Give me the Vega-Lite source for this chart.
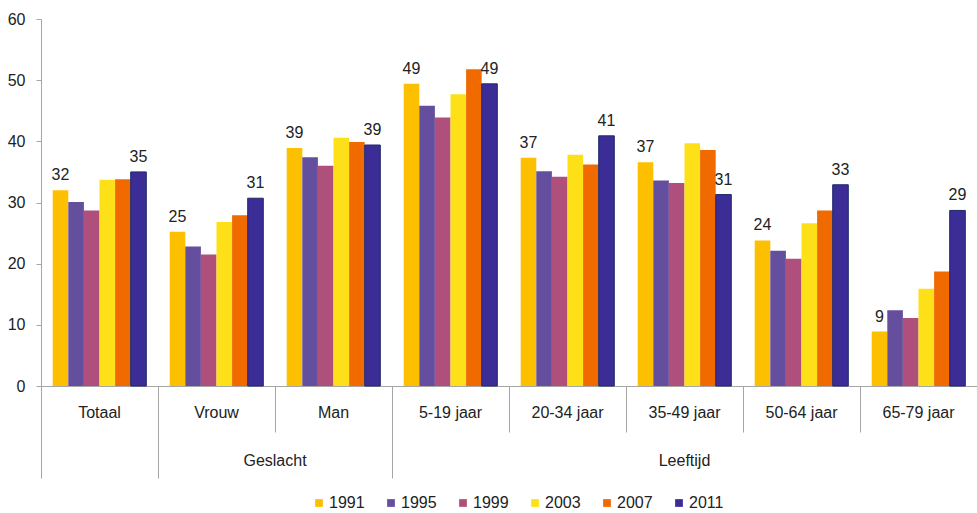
{
  "$schema": "https://vega.github.io/schema/vega-lite/v6.json",
  "width": 936,
  "height": 367,
  "autosize": {"type": "none"},
  "padding": {"left": 41, "top": 19, "right": 0, "bottom": 127},
  "background": "white",
  "config": {
    "view": {"stroke": null},
    "font": "Liberation Sans",
    "text": {"font": "Liberation Sans"},
    "axis": {"labelFont": "Liberation Sans", "grid": false},
    "legend": {"labelFont": "Liberation Sans"}
  },
  "data": {
    "values": [
      {"cat": "Totaal", "year": "1991", "value": 32.0},
      {"cat": "Totaal", "year": "1995", "value": 30.1},
      {"cat": "Totaal", "year": "1999", "value": 28.7},
      {"cat": "Totaal", "year": "2003", "value": 33.7},
      {"cat": "Totaal", "year": "2007", "value": 33.8},
      {"cat": "Totaal", "year": "2011", "value": 35.0},
      {"cat": "Vrouw", "year": "1991", "value": 25.2},
      {"cat": "Vrouw", "year": "1995", "value": 22.8},
      {"cat": "Vrouw", "year": "1999", "value": 21.5},
      {"cat": "Vrouw", "year": "2003", "value": 26.8},
      {"cat": "Vrouw", "year": "2007", "value": 27.9},
      {"cat": "Vrouw", "year": "2011", "value": 30.7},
      {"cat": "Man", "year": "1991", "value": 38.9},
      {"cat": "Man", "year": "1995", "value": 37.4},
      {"cat": "Man", "year": "1999", "value": 36.0},
      {"cat": "Man", "year": "2003", "value": 40.6},
      {"cat": "Man", "year": "2007", "value": 39.9},
      {"cat": "Man", "year": "2011", "value": 39.4},
      {"cat": "5-19 jaar", "year": "1991", "value": 49.4},
      {"cat": "5-19 jaar", "year": "1995", "value": 45.8},
      {"cat": "5-19 jaar", "year": "1999", "value": 43.9},
      {"cat": "5-19 jaar", "year": "2003", "value": 47.7},
      {"cat": "5-19 jaar", "year": "2007", "value": 51.8},
      {"cat": "5-19 jaar", "year": "2011", "value": 49.4},
      {"cat": "20-34 jaar", "year": "1991", "value": 37.3},
      {"cat": "20-34 jaar", "year": "1995", "value": 35.1},
      {"cat": "20-34 jaar", "year": "1999", "value": 34.2},
      {"cat": "20-34 jaar", "year": "2003", "value": 37.8},
      {"cat": "20-34 jaar", "year": "2007", "value": 36.2},
      {"cat": "20-34 jaar", "year": "2011", "value": 40.9},
      {"cat": "35-49 jaar", "year": "1991", "value": 36.6},
      {"cat": "35-49 jaar", "year": "1995", "value": 33.6},
      {"cat": "35-49 jaar", "year": "1999", "value": 33.2},
      {"cat": "35-49 jaar", "year": "2003", "value": 39.7},
      {"cat": "35-49 jaar", "year": "2007", "value": 38.6},
      {"cat": "35-49 jaar", "year": "2011", "value": 31.3},
      {"cat": "50-64 jaar", "year": "1991", "value": 23.8},
      {"cat": "50-64 jaar", "year": "1995", "value": 22.1},
      {"cat": "50-64 jaar", "year": "1999", "value": 20.8},
      {"cat": "50-64 jaar", "year": "2003", "value": 26.6},
      {"cat": "50-64 jaar", "year": "2007", "value": 28.7},
      {"cat": "50-64 jaar", "year": "2011", "value": 32.9},
      {"cat": "65-79 jaar", "year": "1991", "value": 8.9},
      {"cat": "65-79 jaar", "year": "1995", "value": 12.4},
      {"cat": "65-79 jaar", "year": "1999", "value": 11.1},
      {"cat": "65-79 jaar", "year": "2003", "value": 15.9},
      {"cat": "65-79 jaar", "year": "2007", "value": 18.7},
      {"cat": "65-79 jaar", "year": "2011", "value": 28.7}
    ]
  },
  "layer": [
    {
      "mark": {"type": "bar", "strokeWidth": 1},
      "encoding": {
        "x": {
          "field": "cat", "type": "nominal",
          "sort": ["Totaal", "Vrouw", "Man", "5-19 jaar", "20-34 jaar", "35-49 jaar", "50-64 jaar", "65-79 jaar"],
          "scale": {"paddingInner": 0, "paddingOuter": 0},
          "axis": {
            "orient": "bottom", "title": null, "bandPosition": 0,
            "tickSize": 46, "tickWidth": 1, "tickColor": "#a6a6a6",
            "domainColor": "#a6a6a6", "domainWidth": 1,
            "labelAngle": 0, "labelOffset": 0, "labelPadding": -20,
            "labelBaseline": "middle", "labelAlign": "center",
            "labelFontSize": 16, "labelColor": "#222222"
          }
        },
        "xOffset": {"field": "year", "type": "nominal", "scale": {"paddingInner": 0, "paddingOuter": 0.75}},
        "y": {
          "field": "value", "type": "quantitative",
          "scale": {"domain": [0, 60]},
          "axis": {
            "title": null, "values": [0, 10, 20, 30, 40, 50, 60],
            "tickSize": 5, "tickColor": "#a6a6a6", "domainColor": "#a6a6a6",
            "labelFontSize": 16, "labelColor": "#222222", "labelPadding": 11
          }
        },
        "color": {
          "field": "year", "type": "nominal",
          "scale": {
            "domain": ["1991", "1995", "1999", "2003", "2007", "2011"],
            "range": ["#FDC000", "#644E9E", "#AF4F7B", "#FEE019", "#F06A00", "#3C2C96"]
          },
          "legend": {
            "orient": "none", "legendX": 270, "legendY": 476,
            "direction": "horizontal", "title": null,
            "symbolType": "square", "symbolSize": 60, "symbolStrokeWidth": 0,
            "labelFontSize": 16, "labelColor": "#222222", "labelOffset": 2,
            "columnPadding": 18
          }
        },
        "stroke": {"condition": {"test": "datum.year == '2011'", "value": "#1d2a6c"}, "value": "transparent"}
      }
    },
    {
      "transform": [{"filter": "datum.year == '1991' || datum.year == '2011'"}],
      "mark": {"type": "text", "baseline": "alphabetic", "dy": -10, "fontSize": 16, "color": "#222222"},
      "encoding": {
        "x": {
          "field": "cat", "type": "nominal",
          "sort": ["Totaal", "Vrouw", "Man", "5-19 jaar", "20-34 jaar", "35-49 jaar", "50-64 jaar", "65-79 jaar"],
          "axis": {
            "orient": "bottom", "title": null, "bandPosition": 0,
            "domain": false,
            "tickSize": 92, "tickWidth": 1, "tickColor": "#a6a6a6",
            "tickOpacity": {"condition": {"test": "datum.value == 'Totaal' || datum.value == 'Vrouw' || datum.value == '5-19 jaar'", "value": 1}, "value": 0},
            "labelExpr": "datum.value == 'Man' ? 'Geslacht' : datum.value == '35-49 jaar' ? 'Leeftijd' : ''",
            "labelOffset": {"condition": {"test": "datum.value == 'Man'", "value": -58.5}, "value": 0},
            "labelAngle": 0, "labelPadding": -18, "labelBaseline": "middle", "labelAlign": "center",
            "labelFontSize": 16, "labelColor": "#222222"
          }
        },
        "xOffset": {"field": "year", "type": "nominal"},
        "y": {"field": "value", "type": "quantitative"},
        "text": {"field": "value", "type": "quantitative", "format": ".0f"}
      }
    }
  ],
  "resolve": {"axis": {"x": "independent"}}
}
